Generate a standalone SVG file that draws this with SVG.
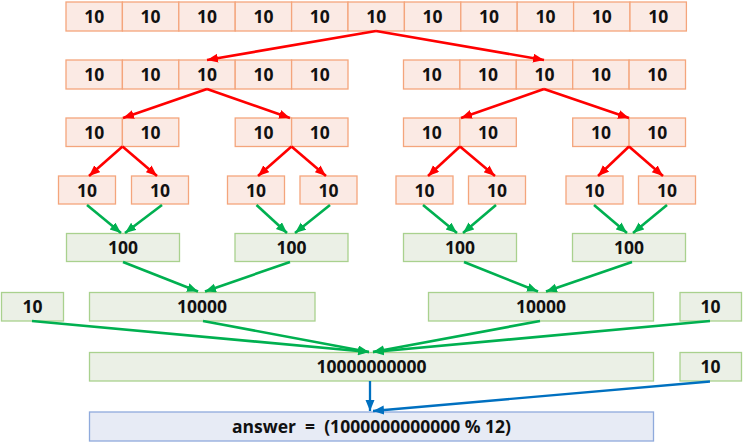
<svg xmlns="http://www.w3.org/2000/svg" width="743" height="447" viewBox="0 0 743 447">
<style>
.o{fill:#FBEAE4;stroke:#F4A57C;stroke-width:1.3}
.g{fill:#EBF0E6;stroke:#A9D18E;stroke-width:1.3}
.b{fill:#E7EBF5;stroke:#8FAADC;stroke-width:1.3}
text{font-family:"Open Sans","Noto Sans","Liberation Sans",sans-serif;font-weight:bold;font-size:17.5px;fill:#111;text-anchor:middle}
.pre{white-space:pre}
.r{stroke:#FF0000;stroke-width:2.6;fill:none;marker-end:url(#ar)}
.gr{stroke:#00B050;stroke-width:2.6;fill:none;marker-end:url(#ag)}
.bl{stroke:#0070C0;stroke-width:2.3;fill:none;marker-end:url(#ab)}
</style>
<defs>
<marker id="ar" markerUnits="userSpaceOnUse" markerWidth="12" markerHeight="10" refX="11" refY="4.5" orient="auto"><path d="M0,0 L11,4.5 L0,9 z" fill="#FF0000"/></marker>
<marker id="ag" markerUnits="userSpaceOnUse" markerWidth="12" markerHeight="10" refX="11" refY="4.5" orient="auto"><path d="M0,0 L11,4.5 L0,9 z" fill="#00B050"/></marker>
<marker id="ab" markerUnits="userSpaceOnUse" markerWidth="12" markerHeight="10" refX="11" refY="4.5" orient="auto"><path d="M0,0 L11,4.5 L0,9 z" fill="#0070C0"/></marker>
</defs>

<g id="row1">
<rect class="o" x="66" y="2" width="56.4" height="29"/><text x="94.2" y="23">10</text>
<rect class="o" x="122.4" y="2" width="56.4" height="29"/><text x="150.6" y="23">10</text>
<rect class="o" x="178.8" y="2" width="56.4" height="29"/><text x="207" y="23">10</text>
<rect class="o" x="235.2" y="2" width="56.4" height="29"/><text x="263.4" y="23">10</text>
<rect class="o" x="291.6" y="2" width="56.4" height="29"/><text x="319.8" y="23">10</text>
<rect class="o" x="348" y="2" width="56.4" height="29"/><text x="376.2" y="23">10</text>
<rect class="o" x="404.4" y="2" width="56.4" height="29"/><text x="432.6" y="23">10</text>
<rect class="o" x="460.8" y="2" width="56.4" height="29"/><text x="489" y="23">10</text>
<rect class="o" x="517.2" y="2" width="56.4" height="29"/><text x="545.4" y="23">10</text>
<rect class="o" x="573.6" y="2" width="56.4" height="29"/><text x="601.8" y="23">10</text>
<rect class="o" x="630" y="2" width="56.4" height="29"/><text x="658.2" y="23">10</text>
</g>

<g id="row2-left">
<rect class="o" x="66" y="60" width="56.4" height="29"/><text x="94.2" y="81">10</text>
<rect class="o" x="122.4" y="60" width="56.4" height="29"/><text x="150.6" y="81">10</text>
<rect class="o" x="178.8" y="60" width="56.4" height="29"/><text x="207" y="81">10</text>
<rect class="o" x="235.2" y="60" width="56.4" height="29"/><text x="263.4" y="81">10</text>
<rect class="o" x="291.6" y="60" width="56.4" height="29"/><text x="319.8" y="81">10</text>
</g>
<g id="row2-right">
<rect class="o" x="403.5" y="60" width="56.4" height="29"/><text x="431.7" y="81">10</text>
<rect class="o" x="459.9" y="60" width="56.4" height="29"/><text x="488.1" y="81">10</text>
<rect class="o" x="516.3" y="60" width="56.4" height="29"/><text x="544.5" y="81">10</text>
<rect class="o" x="572.7" y="60" width="56.4" height="29"/><text x="600.9" y="81">10</text>
<rect class="o" x="629.1" y="60" width="56.4" height="29"/><text x="657.3" y="81">10</text>
</g>

<g id="row3-a">
<rect class="o" x="66" y="118" width="56.4" height="28.5"/><text x="94.2" y="139">10</text>
<rect class="o" x="122.4" y="118" width="56.4" height="28.5"/><text x="150.6" y="139">10</text>
</g>
<g id="row3-b">
<rect class="o" x="235.2" y="118" width="56.4" height="28.5"/><text x="263.4" y="139">10</text>
<rect class="o" x="291.6" y="118" width="56.4" height="28.5"/><text x="319.8" y="139">10</text>
</g>
<g id="row3-c">
<rect class="o" x="403.5" y="118" width="56.4" height="28.5"/><text x="431.7" y="139">10</text>
<rect class="o" x="459.9" y="118" width="56.4" height="28.5"/><text x="488.1" y="139">10</text>
</g>
<g id="row3-d">
<rect class="o" x="572.7" y="118" width="56.4" height="28.5"/><text x="600.9" y="139">10</text>
<rect class="o" x="629.1" y="118" width="56.4" height="28.5"/><text x="657.3" y="139">10</text>
</g>

<g id="leaf1"><rect class="o" x="58.5" y="176" width="57" height="28"/><text x="87" y="196.5">10</text></g>
<g id="leaf2"><rect class="o" x="131.5" y="176" width="57" height="28"/><text x="160" y="196.5">10</text></g>
<g id="leaf3"><rect class="o" x="227.5" y="176" width="57" height="28"/><text x="256" y="196.5">10</text></g>
<g id="leaf4"><rect class="o" x="300" y="176" width="57" height="28"/><text x="328.5" y="196.5">10</text></g>
<g id="leaf5"><rect class="o" x="396" y="176" width="57" height="28"/><text x="424.5" y="196.5">10</text></g>
<g id="leaf6"><rect class="o" x="468.5" y="176" width="57" height="28"/><text x="497" y="196.5">10</text></g>
<g id="leaf7"><rect class="o" x="566" y="176" width="57" height="28"/><text x="594.5" y="196.5">10</text></g>
<g id="leaf8"><rect class="o" x="638.5" y="176" width="57" height="28"/><text x="667" y="196.5">10</text></g>

<g id="p100a"><rect class="g" x="66.5" y="233.5" width="113" height="28"/><text x="123" y="254">100</text></g>
<g id="p100b"><rect class="g" x="235" y="233.5" width="113" height="28"/><text x="291.5" y="254">100</text></g>
<g id="p100c"><rect class="g" x="403.5" y="233.5" width="113" height="28"/><text x="460" y="254">100</text></g>
<g id="p100d"><rect class="g" x="572.5" y="233.5" width="113" height="28"/><text x="629" y="254">100</text></g>

<g id="extra10a"><rect class="g" x="1.5" y="292.5" width="62" height="28.5"/><text x="32.5" y="313">10</text></g>
<g id="p10000a"><rect class="g" x="89.5" y="292.5" width="225.5" height="28.5"/><text x="202" y="313">10000</text></g>
<g id="p10000b"><rect class="g" x="428.5" y="292.5" width="225" height="28.5"/><text x="541" y="313">10000</text></g>
<g id="extra10b"><rect class="g" x="680" y="292.5" width="61.5" height="28.5"/><text x="710.5" y="313">10</text></g>

<g id="big"><rect class="g" x="89.5" y="352.5" width="564" height="28.5"/><text x="371.5" y="373">10000000000</text></g>
<g id="extra10c"><rect class="g" x="680" y="352.5" width="61.5" height="28.5"/><text x="710.5" y="373">10</text></g>

<g id="answer"><rect class="b" x="89.5" y="412" width="564" height="29"/><text class="pre" x="371.5" y="433">answer  =  (1000000000000 % 12)</text></g>

<g id="connectors">
<line class="r" x1="376" y1="31" x2="207" y2="60"/>
<line class="r" x1="376" y1="31" x2="544" y2="60"/>
<line class="r" x1="207" y1="89" x2="123" y2="118"/>
<line class="r" x1="207" y1="89" x2="290" y2="118"/>
<line class="r" x1="544" y1="89" x2="461" y2="118"/>
<line class="r" x1="544" y1="89" x2="629" y2="118"/>
<line class="r" x1="122.5" y1="146.5" x2="89" y2="176"/>
<line class="r" x1="122.5" y1="146.5" x2="157" y2="176"/>
<line class="r" x1="291.5" y1="146.5" x2="258" y2="176"/>
<line class="r" x1="291.5" y1="146.5" x2="326" y2="176"/>
<line class="r" x1="460" y1="146.5" x2="428" y2="176"/>
<line class="r" x1="460" y1="146.5" x2="495" y2="176"/>
<line class="r" x1="629" y1="146.5" x2="598" y2="176"/>
<line class="r" x1="629" y1="146.5" x2="663" y2="176"/>

<line class="gr" x1="87" y1="205" x2="121" y2="233"/>
<line class="gr" x1="162" y1="205" x2="125" y2="233"/>
<line class="gr" x1="256.5" y1="205" x2="287" y2="233"/>
<line class="gr" x1="330" y1="205" x2="295" y2="233"/>
<line class="gr" x1="423" y1="205" x2="457" y2="233"/>
<line class="gr" x1="496" y1="205" x2="463" y2="233"/>
<line class="gr" x1="594" y1="205" x2="627" y2="233"/>
<line class="gr" x1="667" y1="205" x2="633" y2="233"/>

<line class="gr" x1="123" y1="262" x2="198" y2="291.5"/>
<line class="gr" x1="290" y1="262" x2="205" y2="291.5"/>
<line class="gr" x1="464" y1="262" x2="538" y2="291.5"/>
<line class="gr" x1="632" y1="262" x2="546" y2="291.5"/>

<line class="gr" x1="32" y1="321" x2="369" y2="352"/>
<line class="gr" x1="203" y1="321" x2="369" y2="352"/>
<line class="gr" x1="540" y1="321" x2="373" y2="352"/>
<line class="gr" x1="710" y1="321" x2="373" y2="352"/>

<line class="bl" x1="370" y1="381" x2="370" y2="411"/>
<line class="bl" x1="710" y1="381.5" x2="373" y2="411"/>
</g>
</svg>
